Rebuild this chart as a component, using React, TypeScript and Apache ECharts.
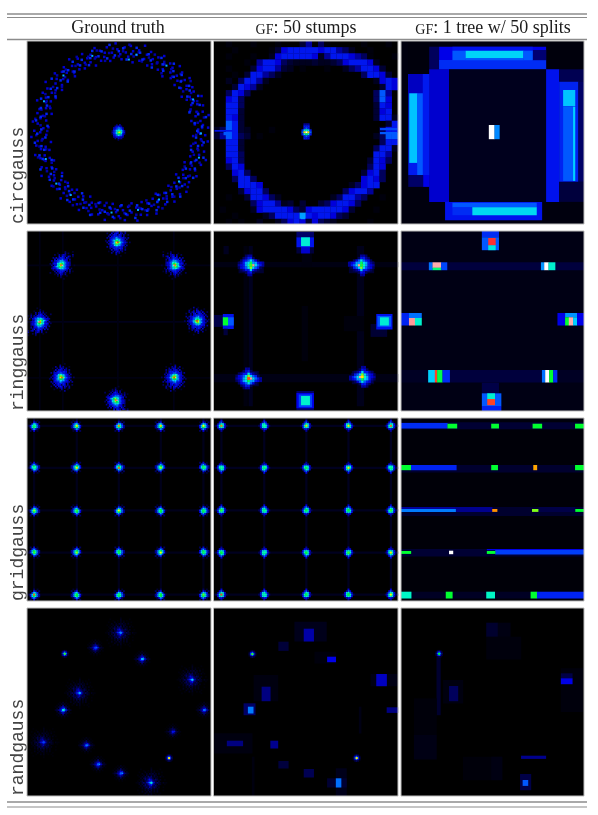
import React, { useEffect, useRef } from "react";
import * as echarts from "echarts";

type Box = number[];

const columnTitles = ["Ground truth", "{sc|GF}{rm|: 50 stumps}", "{sc|GF}{rm|: 1 tree w/ 50 splits}"];
const rowTitles = ["circgauss", "ringgauss", "gridgauss", "randgauss"];

const colX = [27, 213.5, 401];
const colW = [184, 184.5, 183];
const rowY = [41, 231, 418, 608];
const rowH = [183, 180, 183, 188];
const titleX = [118, 306, 493];

const levels: Record<string, number> = { ".": 0, a: 0.012, b: 0.03, c: 0.05, d: 0.09, e: 0.14, f: 0.19, g: 0.225, h: 0.3, i: 0.36, j: 0.42, k: 0.5, l: 0.58, m: 0.65, n: 0.72, o: 0.8, p: 0.88, q: 0.95, r: 1 };

/* ---------- circgauss, ground truth: ring samples as angle, radius pairs ---------- */
const ringDim = [0,78,2,85,3,73,5,81,6,88,8,76,9,83,11,72,12,79,13,86,15,75,16,82,18,90,19,74,21,80,22,87,24,77,25,71,27,84,28,79,30,88,31,73,33,81,34,76,36,85,37,70,39,83,40,78,42,89,43,74,45,80,46,86,48,72,49,77,51,83,52,88,54,75,55,81,57,79,58,85,60,71,61,78,63,84,64,74,66,89,67,80,69,76,70,82,72,87,73,73,75,79,76,85,78,77,79,90,81,72,82,81,84,75,85,83,87,88,88,78,90,74,91,84,93,80,94,86,96,72,97,77,99,82,100,89,102,75,103,80,105,85,106,73,108,78,109,87,111,81,112,76,114,83,115,71,117,79,118,88,120,74,121,84,123,77,124,81,126,86,127,72,129,80,130,75,132,89,133,83,135,78,136,73,138,85,139,80,141,76,142,87,144,82,145,71,147,79,148,84,150,74,151,90,153,77,154,82,156,86,157,72,159,80,160,75,162,84,163,79,165,88,166,73,168,81,169,76,171,85,172,70,174,83,175,78,177,89,178,74,180,80,181,86,183,77,184,72,186,83,187,88,189,75,190,81,192,79,193,85,195,71,196,84,198,78,199,74,201,89,202,80,204,76,205,82,207,87,208,73,210,79,211,85,213,77,214,90,216,72,217,81,219,75,220,83,222,88,223,78,225,74,226,84,228,80,229,86,231,72,232,77,234,82,235,89,237,75,238,80,240,85,241,73,243,78,244,87,246,81,247,76,249,83,250,71,252,79,253,88,255,74,256,84,258,77,259,81,261,86,262,72,264,80,265,75,267,89,268,83,270,78,271,73,273,85,274,80,276,76,277,87,279,82,280,71,282,79,283,84,285,74,286,90,288,77,289,82,291,86,292,72,294,80,295,75,297,84,298,79,300,88,301,73,303,81,304,76,306,85,307,70,309,83,310,78,312,89,313,74,315,80,316,86,318,77,319,72,321,83,322,88,324,75,325,81,327,79,328,85,330,71,331,84,333,78,334,74,336,89,337,80,339,76,340,82,342,87,343,73,345,79,346,85,348,77,349,90,351,72,352,81,354,75,355,83,357,88,358,78];
const ringMid = [1,80,4,76,7,84,10,79,14,73,17,87,20,81,23,77,26,83,29,75,32,86,35,80,38,74,41,82,44,78,47,88,50,81,53,76,56,84,59,73,62,79,65,86,68,77,71,83,74,80,77,75,80,87,83,79,86,82,89,73,92,78,95,85,98,76,101,81,104,83,107,74,110,88,113,79,116,84,119,77,122,72,125,82,128,86,131,78,134,75,137,83,140,80,143,73,146,85,149,81,152,77,155,88,158,74,161,82,164,84,167,78,170,80,173,86,176,75,179,83,182,79,185,73,188,85,191,81,194,76,197,83,200,78,203,86,206,80,209,74,212,82,215,77,218,87,221,79,224,73,227,83,230,81,233,76,236,85,239,78,242,82,245,74,248,80,251,86,254,79,257,83,260,75,263,88,266,77,269,81,272,84,275,73,278,79,281,86,284,82,287,76,290,83,293,78,296,72,299,85,302,80,305,75,308,87,311,81,314,77,317,84,320,79,323,74,326,83,329,81,332,76,335,86,338,78,341,84,344,72,347,80,350,87,353,75,356,82,359,77];
const ringExtra = [2,76,6,82,9,74,13,80,17,77,21,85,25,79,28,73,32,82,36,78,39,87,43,81,47,75,50,84,54,79,58,74,61,87,65,80,69,73,72,82,76,78,79,84,83,74,87,81,90,86,94,77,98,83,101,72,105,80,109,76,112,85,116,78,119,82,123,87,127,76,130,83,134,79,138,74,141,86,145,80,149,77,152,83,156,75,160,81,163,86,167,76,170,82,174,79,178,84,181,73,185,80,189,86,192,77,196,82,200,75,203,80,207,84,211,76,214,81,218,74,222,85,225,78,229,83,232,75,236,80,240,87,243,76,247,82,251,78,254,85,258,73,262,80,265,84,269,76,272,81,276,88,280,77,283,82,287,74,291,80,294,85,298,78,302,83,305,72,309,81,313,76,316,84,320,80,324,87,327,75,331,81,335,78,338,83,342,74,346,80,350,85,353,78,357,82];
const ringBright = [282,79,277,73,336,80,141,82,128,80,96,81,77,80,40,77,202,82,1,81,160,79,305,81,225,80,18,83,60,78,250,81];
const circCentre = [91.3, 91.3];
const ringCentre = [92, 90];
const circCore = [
  "....d.e....",
  "...efgfe...",
  "..efghhge..",
  "..fghiihf..",
  ".dghjkkjhe.",
  ".eghjmnkhf.",
  ".dghjlljge.",
  "..fghjihf..",
  "..efgggfe..",
  "...e.fee...",
  ".....d.....",
];

/* ---------- circgauss, 50 stumps ---------- */
const circStumps = [
  "..a...a...a...ce.da.....a...a.",
  "...a.....acfgggggfggedb..a....",
  "..a...a..bfgggggfbegggfeda...a",
  ".....a.eggfdcbbbcbbcdfgggfb...",
  "..a...cfggecb.a...a..bdeggfc..",
  "...a.cggedb.............dggfc.",
  "..b.dggeb.................bfgf",
  "...cgfeb...................cgf",
  "..dgfd....................dhe.",
  "..fgd.....................dhf.",
  "..ggd.....................cgf.",
  "..ggc.....................cfg.",
  "..gfc.....................cggb",
  "..hgc.......................cg",
  "bdhgcb...a.....a...........dgg",
  "cehgdc.a..................bdhh",
  "..ggc......................dgg",
  "..ggc.....................dggb",
  "..ggd.....................gge.",
  "..fgd....................cgfd.",
  "..dgf....................dgf..",
  "...fgd..................cfgd..",
  "...dggd.................fgfd..",
  "....gggf..............bdfgg...",
  "....cfggd............dfgge....",
  "..a..cggfdb........bdgged..a..",
  "......dfggebc.c..cdfggfd......",
  ".a....bfggggfdcfgggggfc...a...",
  "...a....bdggggigfggfdc........",
  "..a.a..b..bdfgfcfdcb.....a....",
];
const circStumpCore = [
  "...eee...",
  "...ggg...",
  "...ghg...",
  "..gjkjg..",
  "..hnrnh..",
  "..gjljg..",
  "...ghg...",
  "...ggf...",
];
const circStumpExtras: Box[] = [
  [1, 89, 19, 90.5, 0.22], [10, 91, 17, 94, 0.3], [166, 87, 183, 89, 0.28], [166, 91, 183, 93, 0.3], [87, 175, 91, 178, 0.36],
];

/* ---------- circgauss, one tree ---------- */
const circTree: Box[] = [
  [7.3, 0, 28.3, 33, 0.012], [28.3, 5.7, 38.3, 28.3, 0.09], [145.7, 0, 184, 28.3, 0.012],
  [38.3, 5.7, 145.7, 28.3, 0.2], [38.3, 19, 145.7, 28.3, 0.25], [132.3, 9, 145.7, 19, 0.11],
  [51.7, 5.7, 132.3, 9.7, 0.22], [51.7, 9.7, 65, 19, 0.3], [65, 9.7, 123, 17.3, 0.41], [123, 9.7, 132.3, 19, 0.3], [65, 17.3, 123, 19, 0.3],
  [28.3, 28.3, 48.3, 160.7, 0.18], [145.7, 28.3, 159, 160.7, 0.22],
  [159, 28.3, 184, 40.7, 0.08], [159, 40.7, 178.3, 140.7, 0.24], [178.3, 40.7, 184, 140.7, 0.1], [159, 140.7, 184, 160.7, 0.06],
  [7.3, 33, 28.3, 134, 0.23], [7.3, 33, 21.7, 52.3, 0.17], [8.3, 52.3, 16.3, 121.7, 0.39], [16.3, 52.3, 21.7, 134, 0.3], [7.3, 134, 22.3, 145.7, 0.1], [22.3, 134, 28.3, 145.7, 0.2],
  [163, 49, 175, 65, 0.39], [163, 65.7, 173, 139.7, 0.3], [173, 65.7, 175, 139.7, 0.4],
  [44.3, 160.7, 141.7, 179, 0.22], [51.7, 161.7, 136.3, 166.3, 0.3], [51.7, 166.3, 71.7, 174, 0.25], [71.7, 166.3, 136.3, 174, 0.42],
  [48.3, 28.3, 145.7, 160.7, 0.028], [88.3, 84, 94, 98, 1], [94, 84, 99, 98, 0.34],
];

/* ---------- ringgauss, ground truth ---------- */
const ringBlobA = [
  "........c..e.......",
  "....c....e...c.....",
  "......e.ef.e..e....",
  "..d..f.fgf.fe.e....",
  "....f.fgf.gf.e..d..",
  "...e.ffggggf.e.....",
  "..e.ffggihggffe.e..",
  "....fghhjjihgf.e...",
  ".d.efgijlljhgfe....",
  "..e.fghjnpmjhgfe.d.",
  "...efgijmmkigfe....",
  "....fggjkjihgf.e...",
  "..e.ffgghhggf.e....",
  "....e.fggfggf.d....",
  ".....f.fgf.fe.e....",
  "...c..e.efe.e......",
  ".....e..f.e...c....",
  "........e..........",
  "...........c.......",
];
const ringBlobB = [
  "...........d....c..",
  "......c....e.d.....",
  "....d..e.efe....e..",
  ".......f.gfe.fe.d..",
  "...e.f.fggf.ge.....",
  "....f.ggghgff.e....",
  "..e.fgghiihgf.d....",
  "...effhijkjhgfe....",
  ".d.fggjkmlkhgfe....",
  "..e.fgjkoqjhgfe..c.",
  "...fgijlmkjhfe.....",
  "..effghjkjihgf.d...",
  "...e.fgghhhgf.e....",
  "....e.ffggf.e.e.c..",
  ".d...e.fgf.e..d....",
  "....c.e.fe.e.......",
  "......d.e...c......",
  "........d..........",
  "..........c........",
];
// centre x, centre y, blob (0 = A, 1 = B), mirror x, mirror y
const ringCentres = [
  [90.7, 11.3, 0, 1, 1], [35.3, 34.3, 1, 1, 1], [146.7, 34.3, 1, -1, 1], [11.7, 90.7, 1, -1, -1],
  [169.7, 90, 0, -1, 1], [34.7, 146.3, 0, 1, -1], [146.7, 146.3, 0, -1, -1], [90, 169, 1, 1, -1],
];
const ringTruthLines: Box[] = [
  [0, 33.5, 184, 35, 0.02], [0, 90, 184, 91.5, 0.025], [0, 146, 184, 147.5, 0.015],
  [12, 0, 13.5, 180, 0.018], [35, 0, 36.5, 180, 0.02], [90, 0, 91.5, 180, 0.018], [146, 0, 147.5, 180, 0.02],
];

/* ---------- ringgauss, 50 stumps ---------- */
const ringStumpBlob = [
  "...dee.....",
  "..deggd....",
  ".dfghjhfd..",
  "degijliigfe",
  "efgikoqjhge",
  "dfghjmjhgd.",
  ".deggjged..",
  "...dfgd....",
  "....ee.....",
];
const ringStumpCentres = [
  [37.3, 34.3, 1, 1], [147.3, 34.3, -1, 1], [35, 147.3, 1, -1], [148.3, 145.7, -1, -1],
];
const ringStumpPeaks = [0.62, 0.58, 0.88, 0.72];
const ringStumps: Box[] = [
  [0, 31, 184, 36, 0.018], [0, 143, 184, 151, 0.02], [30, 15, 34, 175, 0.015], [35, 15, 39, 175, 0.03], [143, 15, 150, 175, 0.025],
  [88, 75, 94, 130, 0.012], [25, 30, 50, 42, 0.05], [135, 30, 160, 42, 0.05], [28, 140, 45, 155, 0.05], [138, 140, 160, 153, 0.05],
  [10, 15, 15, 23, 0.03], [130, 85, 150, 100, 0.012], [88, 20, 98, 36, 0.015],
  [82.7, 0.7, 100, 6.3, 0.1], [82.7, 16, 87.3, 22.3, 0.06], [96, 16, 100, 22.3, 0.06], [87.3, 16, 96, 22.3, 0.18],
  [82.7, 6.3, 100, 16, 0.22], [87.3, 6.3, 96, 15, 0.46],
  [0, 84, 9.3, 95.7, 0.07], [9.3, 83, 20, 97.7, 0.22], [14.3, 86.3, 20, 94.3, 0.3], [9.3, 86.3, 14.3, 94.3, 0.6], [10, 97.7, 14, 104, 0.06],
  [156.7, 93, 173, 105.7, 0.05], [162.3, 83, 178.3, 98.3, 0.22], [163.5, 85, 177, 95.5, 0.3], [166, 86.3, 174.7, 94.3, 0.46],
  [82.7, 160, 100, 179, 0.1], [82.7, 162, 100, 177, 0.2], [85, 163.5, 98, 176, 0.28], [87.3, 165, 96, 174, 0.47],
];

/* ---------- ringgauss, one tree ---------- */
const ringTree: Box[] = [
  [81.3, 0, 98.3, 6.3, 0.25], [81.3, 6.3, 98.3, 19, 0.3], [87.7, 7, 95, 14.3, 0.9], [87.7, 14.3, 95, 19, 0.45],
  [0, 31.3, 184, 39, 0.06], [28, 31.3, 31.7, 39, 0.32], [31.7, 31.3, 40.3, 36.7, 0.96], [31.7, 36.7, 40.3, 39, 0.55], [40.3, 31.3, 46.3, 39, 0.28],
  [140.7, 31.3, 144, 39, 0.35], [144, 31.3, 148.3, 39, 1], [148.3, 31.3, 155, 39, 0.47],
  [0, 82, 8, 94.3, 0.24], [8, 82, 20.7, 87, 0.32], [8, 87, 14, 94.3, 0.95], [14, 87, 20.7, 94.3, 0.47],
  [157.3, 82, 165, 94.3, 0.2], [165, 82, 177, 86.3, 0.35], [165, 86.3, 168.7, 94.3, 0.6], [168.7, 86.3, 173, 94.3, 0.96], [173, 86.3, 177, 94.3, 0.4], [177, 82, 184, 94.3, 0.2],
  [0, 139, 27.3, 151.3, 0.035], [157, 139, 184, 151.3, 0.035], [49, 139, 141.7, 151.3, 0.06],
  [27.3, 139, 34, 151.3, 0.4], [34, 139, 36.3, 151.3, 0.88], [36.3, 139, 41.7, 151.3, 0.58], [41.7, 139, 49, 151.3, 0.25],
  [141.7, 139, 145, 151.3, 0.32], [145, 139, 149, 151.3, 1], [149, 139, 153, 151.3, 0.6], [153, 139, 157, 151.3, 0.25],
  [81.3, 151.7, 98.3, 162.3, 0.07], [81.3, 162.3, 100.7, 175, 0.3], [86.7, 162.3, 94.3, 168, 0.47], [86.7, 168, 94.3, 174, 0.88], [81.3, 175, 100.7, 180.7, 0.24],
];

/* ---------- gridgauss ---------- */
const gridBlob = [
  "...d.c.",
  ".c.ge.d",
  "..gjig.",
  "cgjlkhe",
  ".fjlkhe",
  "..gigd.",
  ".d.f.c.",
];
const gridStumpBlob = [
  "...f...",
  "..fhe..",
  ".ehkjf.",
  "dgklkgd",
  ".fjkjf.",
  "..fge..",
  "...e...",
];
const gridTruthX = [7, 49.7, 91.7, 133.7, 176.3];
const gridTruthY = [7.7, 49.7, 92.3, 134.5, 176.5];
const gridStumpX = [7.8, 50.5, 92.5, 134.5, 176.8];
const gridStumpY = [7.7, 49.7, 92.3, 134.5, 176.5];
const gridTruthPeaks = [
  [0.55, 0.72, 0.8, 0.74, 0.7],
  [0.5, 0.72, 0.85, 0.66, 0.56],
  [0.66, 0.62, 0.7, 0.6, 0.58],
  [0.62, 0.66, 0.58, 0.7, 0.56],
  [0.85, 0.6, 0.55, 0.6, 0.64],
];
const gridStumpPeaks = [
  [0.82, 0.5, 0.74, 0.72, 0.84],
  [0.5, 0.55, 0.58, 0.72, 0.52],
  [0.62, 0.55, 0.6, 0.6, 0.62],
  [0.6, 0.48, 0.6, 0.62, 0.72],
  [0.88, 0.45, 0.58, 0.6, 0.7],
];
const gridTree: Box[] = [
  [0, 1, 184, 4.3, 0.012], [0, 4.3, 184, 11, 0.05], [0, 5, 46.7, 10.3, 0.25], [46.7, 5.7, 56.3, 10.3, 0.6], [90.7, 5.7, 98.3, 10.3, 0.6], [132.3, 5.7, 141.7, 10.3, 0.6], [175, 5.7, 184, 10.3, 0.6],
  [0, 47, 184, 54.3, 0.045], [0, 47, 10, 52, 0.6], [10, 47, 55.7, 52, 0.24], [90.7, 47, 97.3, 52, 0.6], [133, 47, 136.7, 52, 0.78], [175, 47, 184, 52, 0.6],
  [0, 89, 184, 97.7, 0.045], [0, 89, 55, 91, 0.14], [55, 89, 91.7, 93.7, 0.13], [0, 91, 55, 93.7, 0.33], [91.7, 91, 96.7, 93.7, 0.8], [131.7, 91, 138.3, 93.7, 0.65], [175, 91, 184, 93.7, 0.6], [138.3, 89, 175, 93.7, 0.07],
  [0, 131, 184, 138.3, 0.05], [86.3, 131, 184, 132, 0.2], [94.7, 132, 184, 136.3, 0.27], [0, 133, 10, 135.7, 0.6], [48.3, 132.7, 52.3, 136, 1], [86.3, 133, 94.7, 135.7, 0.6],
  [0, 173.7, 184, 180.3, 0.035], [0, 173.7, 10.3, 180.3, 0.48], [45, 173.7, 51.7, 180.3, 0.6], [85.7, 173.7, 94.3, 180.3, 0.48], [130.3, 173.7, 136.7, 180.3, 0.6], [136.7, 173.7, 184, 180.3, 0.24],
];

/* ---------- randgauss ---------- */
const randWide = [
  "..........a..........",
  "...a......b.....a....",
  ".....a..a.b.a.a......",
  "..a...b.a.b.b..a.a...",
  "....b..b.cbc.b.b.....",
  ".a.a.b.cb.c.cb...a...",
  "..a.b.c.dcd.c.b.b.a..",
  "...b.cdcdedc.cb......",
  "..a.b.dcefedcdc.b..a.",
  ".a.bc.cdefgedc.c.....",
  "aab.cdceghjgecdcb.baa",
  "..b.c.dcefgedc.cb..a.",
  "...b.cdcdefdcdb......",
  "..a.b.cdcedcdc.b..a..",
  "....b.c.dcd.c.b......",
  ".a..a.b.c.c.b.b...a..",
  "....b..b.cb.b.b......",
  "..a...b.a.b.a...a....",
  ".....a..b.b..a.a.....",
  "...a......a.....a....",
  "..........a..........",
];
const randSmall = [
  "...a.b.a...",
  "..a.b.b.a..",
  ".a.b.d.b.a.",
  "a.bcdedcb..",
  ".b.defgd.b.",
  "bcdefhifdcb",
  ".b.dfgfd.b.",
  "..bcdedcb.a",
  ".a.b.d.b...",
  "..a.b.b.a..",
  "....a.a....",
];
const randTight = [
  ".cdc.",
  "cfhfc",
  "dhkhd",
  "cfhfc",
  ".cdc.",
];
// centre x, centre y, blob (0 wide, 1 small, 2 tight), gain, peak
const randCentres = [
  [93.7, 24.7, 0, 1, 0.34], [68.3, 39.7, 1, 0.9, 0.27], [37.7, 45.7, 2, 1, 0.62], [115, 51, 1, 1.1, 0.38],
  [165.3, 71.7, 0, 1, 0.4], [52.7, 85, 0, 1, 0.37], [36, 102, 1, 1.3, 0.46], [177, 102, 1, 0.9, 0.32],
  [16.7, 134.3, 0, 0.8, 0.27], [145.7, 123.7, 1, 0.6, 0.22], [59.3, 137.3, 1, 0.9, 0.32], [142, 150, 2, 0.9, 0.72],
  [71, 156.3, 1, 1, 0.3], [93.7, 165.3, 1, 1, 0.3], [124.3, 174.7, 0, 1.15, 0.46],
];
const randStumps: Box[] = [
  [80.7, 13.7, 112.7, 33.3, 0.025], [90, 20.7, 100, 33.3, 0.15], [64.7, 33.7, 74.7, 42.7, 0.055],
  [100.7, 43.7, 122, 55.3, 0.012], [113.3, 48.7, 122, 54, 0.2], [156.7, 66, 183.3, 78, 0.02], [162.3, 66, 172.7, 78, 0.17],
  [40, 67, 64.3, 93, 0.015], [48, 78.7, 56.7, 93, 0.12], [30, 95.3, 41.7, 107, 0.1], [34.3, 98.7, 39.7, 105.3, 0.33],
  [172.7, 99.3, 184, 104.7, 0.12], [0.7, 125.3, 38.7, 145.3, 0.015], [13.3, 132.7, 29.3, 138, 0.12], [56.7, 132.7, 64.3, 140.3, 0.13],
  [64.7, 153, 74.7, 160.3, 0.06], [90, 161, 100, 169.3, 0.08], [122, 160.3, 132.7, 188, 0.025], [113.3, 170.3, 132.7, 179.3, 0.05],
  [122, 170.3, 127.3, 179.3, 0.32], [38.3, 148.7, 40.7, 188, 0.015], [145, 98.7, 147.3, 125.3, 0.02],
];
const randStumpTight = [[38.7, 46, 0.62], [142.7, 150, 0.72]];
const randTree: Box[] = [
  [35.7, 48.7, 39.7, 107, 0.045], [85.7, 14.7, 97.3, 28.7, 0.045], [97.3, 14.7, 110, 28.7, 0.018], [85.7, 28.7, 120.7, 51.3, 0.012],
  [42.3, 72, 62.3, 95.3, 0.015], [48.3, 78, 57.3, 93, 0.09], [160.7, 60.3, 183, 103.7, 0.012], [160.7, 65.3, 172.3, 70.3, 0.07], [160.7, 70.3, 172.3, 76, 0.2],
  [13, 90.3, 35.7, 127, 0.01], [13, 127, 35.7, 151.3, 0.02], [62.3, 148.7, 101.7, 172, 0.01], [90.7, 148.7, 101.7, 172, 0.018],
  [120.7, 147.7, 145.7, 150.7, 0.13], [119.7, 166, 130.7, 182, 0.07], [122.3, 172, 127.7, 177.7, 0.3],
];
const randTreeTight = [[38.3, 45.7, 0.6]];

/* ---------- helpers that turn the lists above into cells ---------- */
const stamp = (rows: string[], cx: number, cy: number, cell: number, gain = 1, fx = 1, fy = 1): Box[] => {
  const out: Box[] = [];
  const midY = Math.floor(rows.length / 2);
  rows.forEach((row, j) => {
    const midX = Math.floor(row.length / 2);
    row.split("").forEach((ch, i) => {
      const v = levels[ch] || 0;
      if (!v) return;
      const x = cx + fx * (i - midX) * cell - cell / 2;
      const y = cy + fy * (j - midY) * cell - cell / 2;
      out.push([x, y, x + cell, y + cell, v * gain]);
    });
  });
  return out;
};
const cellMap = (rows: string[], cw: number): Box[] => {
  const out: Box[] = [];
  rows.forEach((row, j) =>
    row.split("").forEach((ch, i) => {
      const v = levels[ch] || 0;
      if (v) out.push([i * cw, j * cw, (i + 1) * cw, (j + 1) * cw, v]);
    })
  );
  return out;
};
const polar = (list: number[], v: number, cell: number): Box[] => {
  const out: Box[] = [];
  for (let k = 0; k < list.length; k += 2) {
    const a = (list[k] * Math.PI) / 180;
    const x = ringCentre[0] + list[k + 1] * Math.cos(a);
    const y = ringCentre[1] + list[k + 1] * Math.sin(a);
    out.push([x, y, x + cell, y + cell, v]);
  }
  return out;
};
const dot = (x: number, y: number, v: number, s = 1.8): Box => [x - s / 2, y - s / 2, x + s / 2, y + s / 2, v];

const gridPanel = (xs: number[], ys: number[], peaks: number[][], blob: string[], cell: number, lineV: number): Box[] => {
  const out: Box[] = [];
  ys.forEach((y) => out.push([0, y - 1, 184, y + 1, lineV]));
  xs.forEach((x) => out.push([x - 1, 0, x + 1, 183, lineV]));
  ys.forEach((y, r) =>
    xs.forEach((x, c) => {
      out.push(...stamp(blob, x, y, cell, 1, c % 2 ? -1 : 1, r % 2 ? -1 : 1));
      out.push(dot(x, y, peaks[r][c], cell));
    })
  );
  return out;
};

const panelData: Box[][] = [
  [...polar(ringDim, 0.18, 2.3), ...polar(ringExtra, 0.15, 2.3), ...polar(ringMid, 0.24, 2.3), ...polar(ringBright, 0.37, 1.8), ...stamp(circCore, circCentre[0], circCentre[1], 1.5)],
  [...cellMap(circStumps, 6.13), ...circStumpExtras, ...stamp(circStumpCore, 92.7, 91.3, 2)],
  circTree,
  [...ringTruthLines, ...ringCentres.flatMap(([x, y, b, fx, fy]) => stamp(b ? ringBlobB : ringBlobA, x, y, 1.5, 1, fx, fy))],
  [...ringStumps, ...ringStumpCentres.flatMap(([x, y, fx, fy], i) => [...stamp(ringStumpBlob, x, y, 2.4, 1, fx, fy), dot(x, y, ringStumpPeaks[i], 2.4)])],
  ringTree,
  gridPanel(gridTruthX, gridTruthY, gridTruthPeaks, gridBlob, 1.7, 0.025),
  gridPanel(gridStumpX, gridStumpY, gridStumpPeaks, gridStumpBlob, 1.7, 0.03),
  gridTree,
  randCentres.flatMap(([x, y, b, g, p]) => [...stamp([randWide, randSmall, randTight][b], x, y, 1.5, g), dot(x, y, p)]),
  [...randStumps, ...randStumpTight.flatMap(([x, y, p]) => [...stamp(randTight, x, y, 1.5), dot(x, y, p)])],
  [...randTree, ...randTreeTight.flatMap(([x, y, p]) => [...stamp(randTight, x, y, 1.5), dot(x, y, p)])],
];
const panelBase = ["#000000", "#000000", "#00000e", "#000000", "#000000", "#000014", "#000000", "#000000", "#000008", "#000000", "#000000", "#000000"];
const colourStops = ["#000000", "#000066", "#0000e8", "#0058ff", "#00d0ff", "#00ffb8", "#00ff30", "#ffff00", "#ff9000", "#ff3030", "#ffffff"];

const serif = "'Liberation Serif', 'Times New Roman', serif";
const mono = "'Liberation Mono', 'Courier New', monospace";
const ink = "#1c1c1c";
const ruleColour = "#8c8c8c";

const rule = (y: number, w: number) => ({ type: "line", shape: { x1: 7, y1: y, x2: 587, y2: y }, style: { stroke: ruleColour, lineWidth: w }, silent: true });

export default function App() {
  const ref = useRef<HTMLDivElement>(null);
  useEffect(() => {
    document.body.style.margin = "0";
    const chart = echarts.init(ref.current as HTMLDivElement, undefined, { renderer: "svg" });
    const grids: any[] = [];
    const xAxes: any[] = [];
    const yAxes: any[] = [];
    const series: any[] = [];
    const frames: any[] = [];
    rowY.forEach((top, r) =>
      colX.forEach((left, c) => {
        const i = r * 3 + c;
        grids.push({ left, top, width: colW[c], height: rowH[r], show: true, backgroundColor: panelBase[i], borderWidth: 0 });
        xAxes.push({ type: "value", gridIndex: i, min: 0, max: 184, show: false });
        yAxes.push({ type: "value", gridIndex: i, min: 0, max: rowH[r], inverse: true, show: false });
        series.push({
          type: "custom",
          xAxisIndex: i,
          yAxisIndex: i,
          clip: true,
          progressive: 0,
          silent: true,
          encode: { x: [0, 2], y: [1, 3] },
          data: panelData[i],
          renderItem: (_: any, api: any) => {
            const a = api.coord([api.value(0), api.value(1)]);
            const b = api.coord([api.value(2), api.value(3)]);
            return { type: "rect", shape: { x: a[0], y: a[1], width: b[0] - a[0] + 0.2, height: b[1] - a[1] + 0.2 }, style: { fill: api.visual("color") } };
          },
        });
        frames.push({ type: "rect", z: 20, silent: true, shape: { x: left, y: top, width: colW[c], height: rowH[r] }, style: { fill: "none", stroke: "#bdbdbd", lineWidth: 1 } });
      })
    );
    const headers = columnTitles.map((text, c) => ({
      type: "text",
      x: titleX[c],
      y: 27,
      silent: true,
      style: {
        text,
        fontFamily: serif,
        fontSize: 18,
        fill: ink,
        align: "center",
        verticalAlign: "middle",
        rich: {
          sc: { fontFamily: serif, fontSize: 14, fill: ink, verticalAlign: "bottom", lineHeight: 18 },
          rm: { fontFamily: serif, fontSize: 18, fill: ink, verticalAlign: "bottom", lineHeight: 18 },
        },
      },
    }));
    const sideLabels = rowTitles.map((text, r) => ({
      type: "text",
      x: 17.5,
      y: rowY[r] + rowH[r],
      rotation: Math.PI / 2,
      silent: true,
      style: { text, fontFamily: mono, fontSize: 18, fill: "#444444", align: "left", verticalAlign: "middle" },
    }));
    chart.setOption({
      animation: false,
      backgroundColor: "#ffffff",
      grid: grids,
      xAxis: xAxes,
      yAxis: yAxes,
      visualMap: { type: "continuous", show: false, min: 0, max: 1, dimension: 4, seriesIndex: series.map((_, i) => i), inRange: { color: colourStops } },
      series,
      graphic: [rule(14, 1.4), rule(17.5, 1), rule(39.5, 1.4), rule(802, 1.6), rule(807, 1.2), ...frames, ...headers, ...sideLabels],
    });
    return () => chart.dispose();
  }, []);
  return <div ref={ref} style={{ position: "absolute", left: 0, top: 0, width: 598, height: 815, filter: "blur(0.5px)" }} />;
}
